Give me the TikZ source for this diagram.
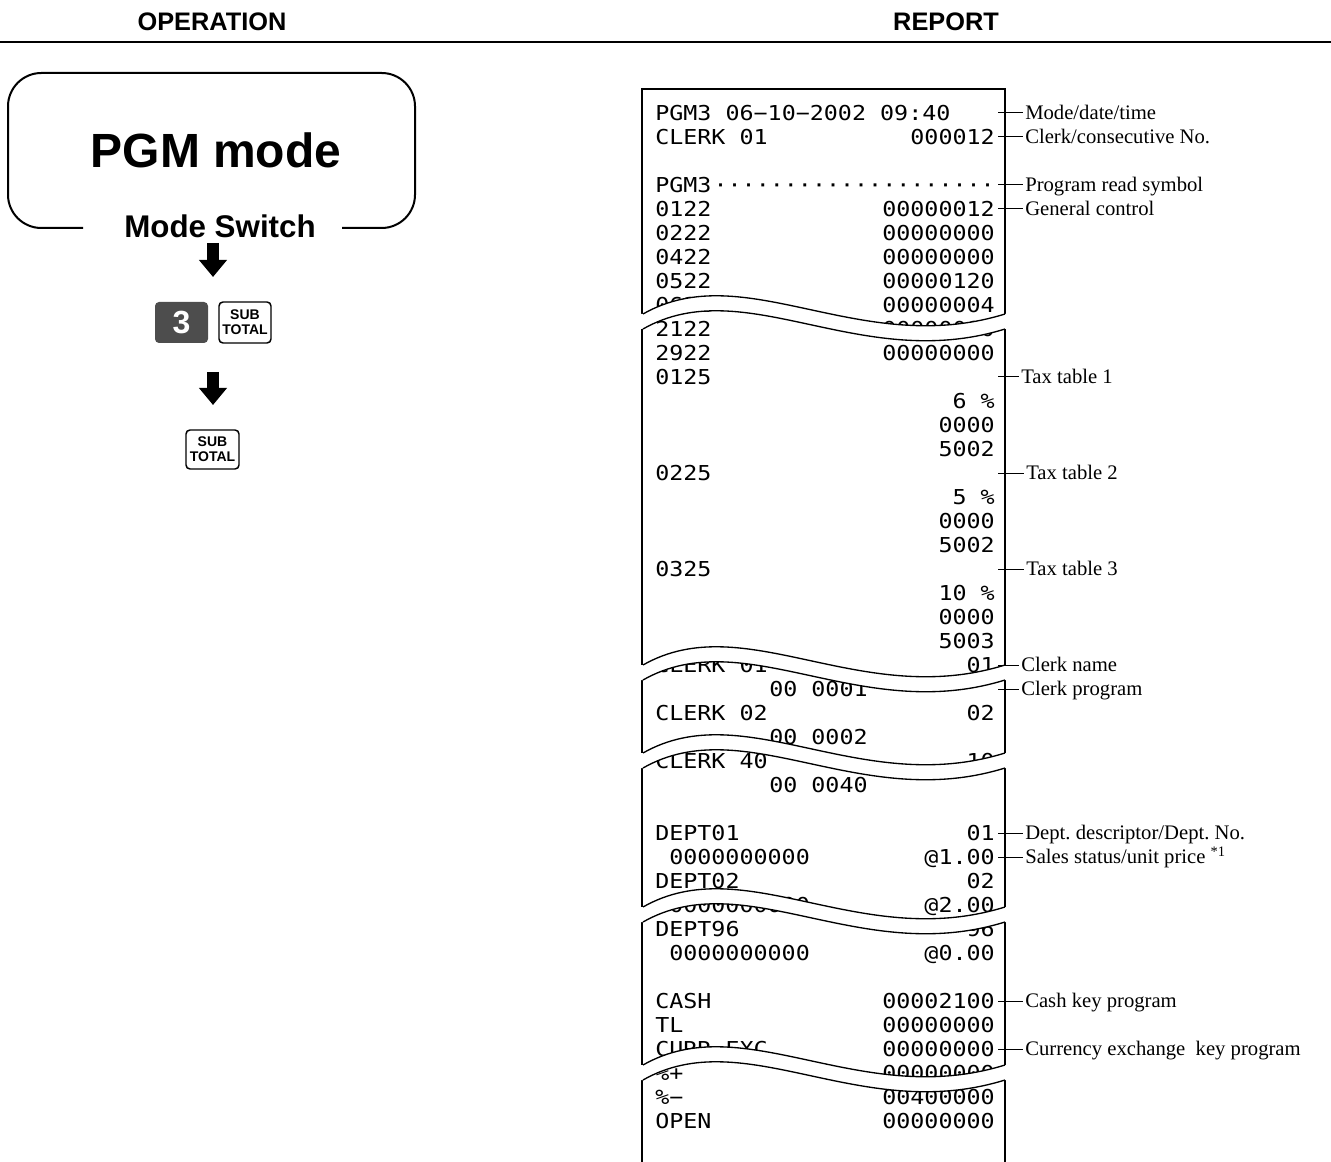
\documentclass[tikz,border=0pt]{standalone}
\usepackage{fontspec}
\newfontfamily\hsans{Liberation Sans}
\newfontfamily\lblfont{Liberation Serif}
\newfontfamily\rcptfont[FakeStretch=1.137]{DejaVu Sans Mono}
\definecolor{keygray}{HTML}{4D4D4D}
\usetikzlibrary{arrows.meta, positioning}
\tikzset{
	head/.style={font=\hsans\bfseries\fontsize{19}{22}\selectfont, inner sep=0pt},
	rtxt/.style={anchor=west, inner sep=0pt, text height=11.25pt, text depth=0pt,
		font=\rcptfont\fontsize{15.4}{18}\selectfont},
	rval/.style={rtxt, anchor=east},
	lbl/.style={anchor=west, inner sep=1.5pt, text height=10.3pt, text depth=0pt,
		font=\lblfont\frenchspacing\fontsize{15.5}{18}\selectfont},
	lblline/.style={line width=0.75pt},
	keybox/.style={draw, line width=1.1pt, rounded corners=3pt, minimum width=39pt,
		minimum height=30.75pt, inner sep=0pt, align=center,
		font=\hsans\bfseries\fontsize{10.5}{11.5}\selectfont},
	numkey/.style={fill=keygray, rounded corners=3pt, minimum width=39.75pt,
		minimum height=30.75pt, inner sep=0pt, text=white,
		font=\hsans\bfseries\fontsize{24}{24}\selectfont},
	barr/.style={-{Triangle[length=12.75pt, width=20.25pt]}, line width=9pt}
}
\begin{document}
\begin{tikzpicture}[x=0.75pt, y=-0.75pt]
	\useasboundingbox (0,0) rectangle (1331,1162);
	\node[head] (op) at (212,22) {OPERATION};
	\node[head] (rep) at (946,22) {REPORT};
	\draw[line width=1.6pt] (0,42) -- (1331,42);

	\draw[line width=1.5pt, rounded corners=25pt] (83,228) -- (8,228) -- (8,73) -- (415,73) -- (415,228) -- (342,228);
	\node[font=\hsans\bfseries\fontsize{36}{36}\selectfont, inner sep=0pt] (pgm) at (216,150) {PGM mode};
	\node[font=\hsans\bfseries\fontsize{23.5}{24}\selectfont, inner sep=0pt] (mswitch) at (220,226) {Mode Switch};
	\coordinate (a1s) at (213,243);
	\coordinate (a1e) at (213,277);
	\draw[barr] (a1s) -- (a1e);
	\node[numkey] (k3) at (181.5,322.5) {3};
	\node[keybox, right=7.5pt of k3] (st1) {SUB\\TOTAL};
	\coordinate (a2s) at (213,372);
	\coordinate (a2e) at (213,405);
	\draw[barr] (a2s) -- (a2e);
	\node[keybox, minimum width=39.75pt, minimum height=29.25pt] (st2) at (212.5,449.5) {SUB\\TOTAL};

	\draw[line width=1pt] (642,1162) -- (642,89) -- (1005,89) -- (1005,1162);
	\foreach \n/\x/\l/\r in {0/655/{PGM3 06−10−2002 09:40}/{}, 1/655/{CLERK 01}/000012,
		3/655/PGM3/{····················}, 4/655/0122/00000012, 5/655/0222/00000000,
		6/655/0422/00000000, 7/655/0522/00000120, 8/655/0622/00000004, 9/655/2122/00000000,
		10/655/2922/00000000, 11/655/0125/{}, 12/655/{}/{6 \%}, 13/655/{}/0000, 14/655/{}/5002,
		15/655/0225/{}, 16/655/{}/{5 \%}, 17/655/{}/0000, 18/655/{}/5002, 19/655/0325/{},
		20/655/{}/{10 \%}, 21/655/{}/0000, 22/655/{}/5003, 23/655/{CLERK 01}/01,
		24/769/{00 0001}/{}, 25/655/{CLERK 02}/02, 26/769/{00 0002}/{}, 27/655/{CLERK 40}/10,
		28/769/{00 0040}/{}, 30/655/DEPT01/01, 31/669/0000000000/{@1.00}, 32/655/DEPT02/02,
		33/669/0000000000/{@2.00}, 34/655/DEPT96/96, 35/669/0000000000/{@0.00},
		37/655/CASH/00002100, 38/655/TL/00000000, 39/655/{CURR EXC}/00000000,
		40/655/{\%+}/00000000, 41/655/{\%−}/00400000, 42/655/OPEN/00000000} {
		\node[rtxt] (l\n) at (\x,{113+24*\n}) {\l};
		\node[rval] (r\n) at (995,{113+24*\n}) {\r};
	}
	\foreach \t in {314,665,753,907,1065} {
		\fill[white] (638,\t) -- (643,\t) .. controls (745,{\t-58}) and (860,{\t+45}) .. (1005,\t)
			-- (1010,\t) -- (1010,{\t+15}) -- (1005,{\t+15})
			.. controls (860,{\t+60}) and (745,{\t-43}) .. (643,{\t+15}) -- (638,{\t+15}) -- cycle;
		\draw[line width=1pt] (643,\t) .. controls (745,{\t-58}) and (860,{\t+45}) .. (1005,\t);
		\draw[line width=1pt] (643,{\t+15}) .. controls (745,{\t-43}) and (860,{\t+60}) .. (1005,{\t+15});
	}
	\foreach \n/\x/\txt in {0/1023/{Mode/date/time}, 1/1023/{Clerk/consecutive No.},
		3/1023/{Program read symbol}, 4/1023/{General control}, 11/1019/{Tax table 1},
		15/1024/{Tax table 2}, 19/1024/{Tax table 3}, 23/1019/{Clerk name},
		24/1019/{Clerk program}, 30/1023/{Dept. descriptor/Dept. No.},
		31/1023/{Sales status/unit price \textsuperscript{*1}}, 37/1023/{Cash key program},
		39/1023/{Currency exchange~ key program}} {
		\coordinate (t\n) at (998,{113+24*\n});
		\node[lbl] (lab\n) at (\x,{113+24*\n}) {\txt};
		\draw[lblline] (t\n) -- (lab\n.west);
	}
\end{tikzpicture}
\end{document}
